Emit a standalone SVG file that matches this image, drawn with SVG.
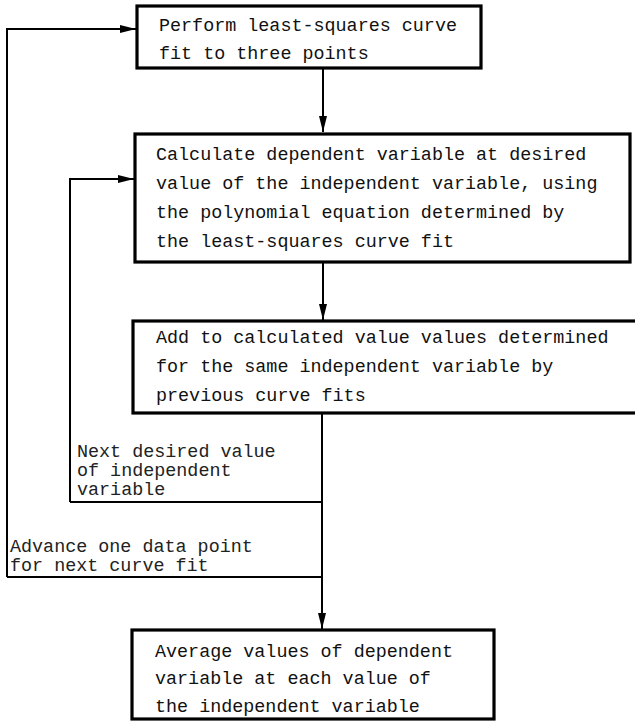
<svg xmlns="http://www.w3.org/2000/svg" width="635" height="722" viewBox="0 0 635 722">
<style>
.box{fill:#fff;stroke:#000;stroke-width:3.2}
.t{font-family:"Liberation Mono","Courier New",monospace;font-size:18.4px;fill:#111}
.lbl{font-family:"Liberation Mono","Courier New",monospace;font-size:18.4px;fill:#222}
.c{fill:none;stroke:#000;stroke-width:2}
</style>
<defs>
<marker id="ah" viewBox="0 0 16 8" refX="16" refY="4" markerWidth="16" markerHeight="8" markerUnits="userSpaceOnUse" orient="auto">
<path d="M0,0 L16,4 L0,8 Z" fill="#000"/>
</marker>
</defs>
<rect width="635" height="722" fill="#fff"/>
<g id="connectors">
<path class="c" d="M7,577 V29 H136" marker-end="url(#ah)"/>
<path class="c" d="M323,68 V132" marker-end="url(#ah)"/>
<path class="c" d="M323,262 V320" marker-end="url(#ah)"/>
<path class="c" d="M70,502 V179 H134" marker-end="url(#ah)"/>
<path class="c" d="M70,502 H322"/>
<path class="c" d="M7,577 H322"/>
<path class="c" d="M322,413 V629" marker-end="url(#ah)"/>
</g>
<g id="box1">
<rect class="box" x="137" y="6" width="344" height="62"/>
<text class="t" x="159" y="31">Perform least-squares curve</text>
<text class="t" x="159" y="59">fit to three points</text>
</g>
<g id="box2">
<rect class="box" x="135" y="134" width="495" height="128"/>
<text class="t" x="156" y="160">Calculate dependent variable at desired</text>
<text class="t" x="156" y="189">value of the independent variable, using</text>
<text class="t" x="156" y="218">the polynomial equation determined by</text>
<text class="t" x="156" y="247">the least-squares curve fit</text>
</g>
<g id="box3">
<rect class="box" x="133" y="321" width="510" height="92"/>
<text class="t" x="156" y="343">Add to calculated value values determined</text>
<text class="t" x="156" y="372">for the same independent variable by</text>
<text class="t" x="156" y="401">previous curve fits</text>
</g>
<g id="box4">
<rect class="box" x="132" y="630" width="362" height="89"/>
<text class="t" x="155" y="657">Average values of dependent</text>
<text class="t" x="155" y="684">variable at each value of</text>
<text class="t" x="155" y="712">the independent variable</text>
</g>
<g id="label-next">
<text class="lbl" x="77" y="457">Next desired value</text>
<text class="lbl" x="77" y="476">of independent</text>
<text class="lbl" x="77" y="495">variable</text>
</g>
<g id="label-advance">
<text class="lbl" x="10" y="552">Advance one data point</text>
<text class="lbl" x="10" y="571">for next curve fit</text>
</g>
</svg>
